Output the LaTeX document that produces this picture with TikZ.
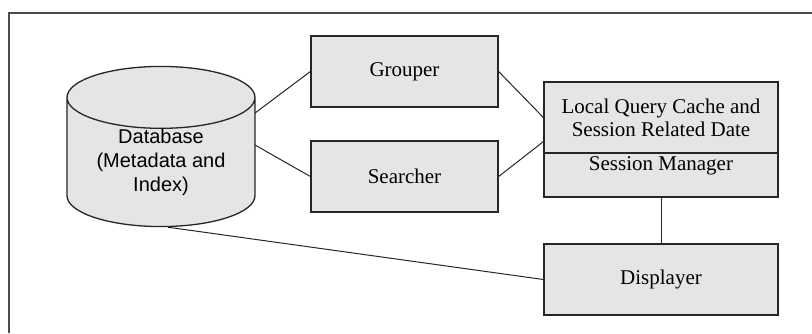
\documentclass[tikz,border=0pt]{standalone}
\usepackage{fontspec}
\setmainfont{Liberation Serif}
\newfontfamily\dbfont{Liberation Sans}
\usetikzlibrary{shapes.geometric,calc}

\tikzset{
  blockbox/.style={draw=black!85, line width=1.3pt, fill=black!10, minimum width=187pt, minimum height=71pt, inner sep=0pt, font=\fontsize{21}{23}\selectfont},
  widebox/.style={blockbox, minimum width=234pt},
  dbstyle/.style={cylinder, shape border rotate=90, draw=black!85, line width=1.3pt, fill=black!10, minimum width=188pt, minimum height=160pt, aspect=0.48, inner sep=0pt, align=center, font=\dbfont\fontsize{20}{24}\selectfont},
  link/.style={draw=black!85, line width=1pt}
}

\begin{document}
\begin{tikzpicture}[x=1pt,y=1pt]
\useasboundingbox (0,0) rectangle (812,333);
\draw[black!70, line width=1.5pt] (9,0) -- (9,320) -- (812,320); %frame

\node[dbstyle, anchor=shape center] (db) at (161,186.5) {Database\\(Metadata and\\Index)};
\node[blockbox] (grouper) at (404.5,261.5) {Grouper};
\node[blockbox] (searcher) at (404.5,156.5) {Searcher};
\node[widebox, align=center] (cache) at (661,215.5) {Local Query Cache and\\Session Related Date};
\node[widebox, minimum height=44pt, text height=17pt, text depth=27pt] (manager) at (661,158) {Session Manager};
\node[widebox] (displayer) at (661,53.5) {Displayer};

\coordinate (dbtop) at ($(db.shape center)+(94,33.5)$);
\coordinate (dbmid) at ($(db.shape center)+(94,1.5)$);
\coordinate (dbfoot) at ([xshift=7pt]db.south);
\coordinate (cachelow) at ($(cache.south west)+(0,12)$);

\draw[link] (dbtop) -- (grouper.west); %db to grouper
\draw[link] (dbmid) -- (searcher.west); %db to searcher
\draw[link] (grouper.east) -- (cache.west); %grouper to cache
\draw[link] (searcher.east) -- (cachelow); %searcher to cache
\draw[link] (manager.south) -- (displayer.north); %manager to displayer
\draw[link] (dbfoot) -- (displayer.west); %db to displayer

\end{tikzpicture}
\end{document}
